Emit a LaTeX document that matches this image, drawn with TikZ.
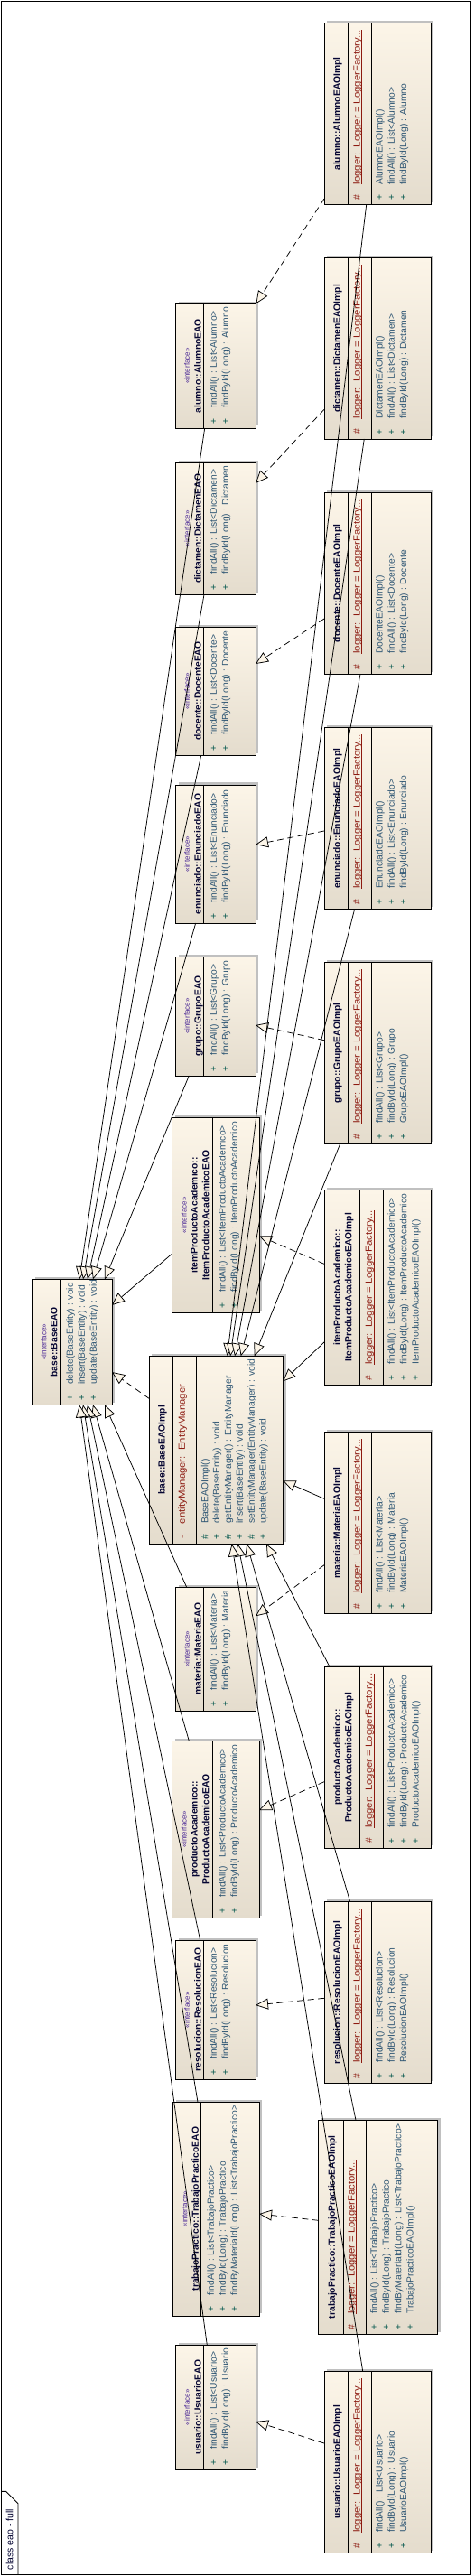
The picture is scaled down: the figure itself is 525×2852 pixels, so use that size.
\documentclass[tikz,border=0pt]{standalone}
\usepackage{fontspec}
\setmainfont{Liberation Sans}
\usetikzlibrary{arrows.meta,shadows}
\definecolor{boxtop}{RGB}{252,245,232}
\definecolor{boxbot}{RGB}{228,220,205}
\definecolor{opc}{RGB}{45,85,115}
\definecolor{attrc}{RGB}{140,25,15}
\definecolor{stc}{RGB}{75,40,150}
\definecolor{plusc}{RGB}{0,85,75}
\definecolor{namec}{RGB}{5,5,50}
\definecolor{shadowc}{RGB}{192,192,192}
\newcounter{tn}
% box: id L T R B
\newcommand\bx[5]{\node[clsbox, anchor=north west, minimum width={#4-#2}, minimum height={#5-#3}] (#1) at (#2,#3) {};}
% separator: x T B
\newcommand\sepl[3]{\draw[sepline] (#1,#2) -- (#1,#3);}
% label: style x y text
\newcommand\lbl[4]{\stepcounter{tn}\node[#1] (l\arabic{tn}) at (#2,#3) {#4};}
% operation: x B symbol text
\newcommand\oper[4]{\stepcounter{tn}\node[vistxt] (v\arabic{tn}) at (#1,{#2-8}) {#3};\node[optxt] (o\arabic{tn}) at (#1,{#2-22.5}) {#4};}
% static attribute: x B text
\newcommand\sattr[3]{\stepcounter{tn}\node[vistxt,text=attrc] (av\arabic{tn}) at (#1,{#2-8}) {\#};\node[attrtxt] (a\arabic{tn}) at (#1,{#2-22.5}) {#3};\draw[attrc,line width=0.6pt] (a\arabic{tn}.south west) -- (a\arabic{tn}.south east);}
% connector: style start end
\newcommand\conn[3]{\stepcounter{tn}\coordinate (cs\arabic{tn}) at (#2);\coordinate (ce\arabic{tn}) at (#3);\draw[#1] (cs\arabic{tn}) -- (ce\arabic{tn});}
% standard interface: id T B name op1 op2
\newcommand\stdiface[6]{%
 \bx{#1}{194.7}{#2}{283}{#3}
 \sepl{225.7}{#2}{#3}
 \lbl{sttxt}{207.3}{{(#2+#3)/2}}{«interface»}
 \lbl{nametxt}{220}{{(#2+#3)/2}}{#4}
 \oper{237.3}{#3}{+}{#5}
 \oper{250.6}{#3}{+}{#6}}
% standard implementation: id T B name op1 op2 op3
\newcommand\stdimpl[7]{%
 \bx{#1}{359}{#2}{477}{#3}
 \sepl{385.7}{#2}{#3}
 \sepl{411.3}{#2}{#3}
 \lbl{nametxt}{374}{{(#2+#3)/2}}{#4}
 \sattr{396}{#3}{logger:\ \ Logger = LoggerFactory...}
 \oper{421}{#3}{+}{#5}
 \oper{434.3}{#3}{+}{#6}
 \oper{447.6}{#3}{+}{#7}}
\begin{document}
\begin{tikzpicture}[x=1pt,y=-1pt,
  clsbox/.style={draw=black,line width=0.9pt,top color=boxtop,bottom color=boxbot,inner sep=0pt,outer sep=0pt,drop shadow={shadow xshift=3.3pt,shadow yshift=2.7pt,fill=shadowc,opacity=1}},
  sepline/.style={draw=black,line width=0.9pt},
  txt/.style={rotate=90,inner sep=0pt,outer sep=0pt},
  nametxt/.style={txt,anchor=mid,text=namec,font=\fontsize{10.3}{12}\selectfont\bfseries},
  sttxt/.style={txt,anchor=mid,text=stc,font=\fontsize{8}{10}\selectfont},
  optxt/.style={txt,anchor=mid west,text=opc,font=\fontsize{10.3}{12}\selectfont},
  attrtxt/.style={txt,xscale=1.1,anchor=mid west,text=attrc,font=\fontsize{10.3}{12}\selectfont},
  vistxt/.style={txt,anchor=mid,text=plusc,font=\fontsize{10.3}{12}\selectfont},
  frametxt/.style={txt,anchor=mid west,text=namec,font=\fontsize{10.5}{12}\selectfont},
  genarrow/.style={draw=black,line width=0.75pt,-{Triangle[length=14pt,width=12pt,fill=boxtop]}},
  realarrow/.style={genarrow,dash pattern=on 7pt off 4.5pt}]
\useasboundingbox (0,0) rectangle (525,2852);
\fill[white] (0,0) rectangle (525,2852);
% frame
\draw[line width=0.9pt] (1.5,1) rectangle (521.5,2850);
\draw[line width=0.9pt] (1.5,2758.3) -- (6.7,2758.3) -- (20,2771.7) -- (20,2850);
\node[frametxt] (framelabel) at (11.7,2845) {class eao - full};

% ---------- base ----------
\bx{baseEAO}{35.3}{1416.3}{124}{1555.3}
\sepl{66.3}{1416.3}{1555.3}
\lbl{sttxt}{48.7}{1485.8}{«interface»}
\lbl{nametxt}{60.7}{1485.8}{base::BaseEAO}
\oper{78.3}{1555.3}{+}{delete(BaseEntity) : void}
\oper{91.3}{1555.3}{+}{insert(BaseEntity) : void}
\oper{104.3}{1555.3}{+}{update(BaseEntity) : void}

\bx{baseImpl}{165}{1501.3}{313.3}{1709.3}
\sepl{191.7}{1501.3}{1709.3}
\sepl{217.7}{1501.3}{1709.3}
\lbl{nametxt}{180}{1605.3}{base::BaseEAOImpl}
\lbl{vistxt,text=attrc}{202.3}{1701.3}{-}
\lbl{attrtxt}{202.3}{1687}{entityManager:\ \ EntityManager}
\oper{227.7}{1709.3}{\#}{BaseEAOImpl()}
\oper{240.6}{1709.3}{+}{delete(BaseEntity) : void}
\oper{253.4}{1709.3}{\#}{getEntityManager() : EntityManager}
\oper{266.3}{1709.3}{+}{insert(BaseEntity) : void}
\oper{279.2}{1709.3}{\#}{setEntityManager(EntityManager) : void}
\oper{292.1}{1709.3}{+}{update(BaseEntity) : void}

% ---------- interfaces ----------
\stdiface{alumnoEAO}{336.3}{474}{alumno::AlumnoEAO}{findAll() : List<Alumno>}{findById(Long) : Alumno}
\stdiface{dictamenEAO}{512.3}{658.3}{dictamen::DictamenEAO}{findAll() : List<Dictamen>}{findById(Long) : Dictamen}
\stdiface{docenteEAO}{694.3}{836.3}{docente::DocenteEAO}{findAll() : List<Docente>}{findById(Long) : Docente}
\stdiface{enunciadoEAO}{869}{1022}{enunciado::EnunciadoEAO}{findAll() : List<Enunciado>}{findById(Long) : Enunciado}
\stdiface{grupoEAO}{1059.3}{1191}{grupo::GrupoEAO}{findAll() : List<Grupo>}{findById(Long) : Grupo}
\stdiface{materiaEAO}{1757.3}{1894}{materia::MateriaEAO}{findAll() : List<Materia>}{findById(Long) : Materia}
\stdiface{resolucionEAO}{2148.3}{2302.3}{resolucion::ResolucionEAO}{findAll() : List<Resolucion>}{findById(Long) : Resolucion}
\stdiface{usuarioEAO}{2596.3}{2734.3}{usuario::UsuarioEAO}{findAll() : List<Usuario>}{findById(Long) : Usuario}

\bx{itemEAO}{190.3}{1237.3}{287}{1453.3}
\sepl{235.7}{1237.3}{1453.3}
\lbl{sttxt}{204}{1345.3}{«interface»}
\lbl{nametxt}{216}{1345.3}{itemProductoAcademico::}
\lbl{nametxt}{228.7}{1345.3}{ItemProductoAcademicoEAO}
\oper{247}{1453.3}{+}{findAll() : List<ItemProductoAcademico>}
\oper{260.3}{1453.3}{+}{findById(Long) : ItemProductoAcademico}

\bx{productoEAO}{190.3}{1927.3}{287}{2123.3}
\sepl{235.7}{1927.3}{2123.3}
\lbl{sttxt}{204}{2025.3}{«interface»}
\lbl{nametxt}{216}{2025.3}{productoAcademico::}
\lbl{nametxt}{228.7}{2025.3}{ProductoAcademicoEAO}
\oper{247}{2123.3}{+}{findAll() : List<ProductoAcademico>}
\oper{260.3}{2123.3}{+}{findById(Long) : ProductoAcademico}

\bx{trabajoEAO}{191.3}{2327.3}{287}{2564}
\sepl{222.7}{2327.3}{2564}
\lbl{sttxt}{204.7}{2445.6}{«interface»}
\lbl{nametxt}{217.3}{2445.6}{trabajoPractico::TrabajoPracticoEAO}
\oper{234.3}{2564}{+}{findAll() : List<TrabajoPractico>}
\oper{247.3}{2564}{+}{findById(Long) : TrabajoPractico}
\oper{260.3}{2564}{+}{findByMateriaId(Long) : List<TrabajoPractico>}

% ---------- implementations ----------
\stdimpl{alumnoImpl}{25.3}{226.7}{alumno::AlumnoEAOImpl}{AlumnoEAOImpl()}{findAll() : List<Alumno>}{findById(Long) : Alumno}
\stdimpl{dictamenImpl}{285.7}{486}{dictamen::DictamenEAOImpl}{DictamenEAOImpl()}{findAll() : List<Dictamen>}{findById(Long) : Dictamen}
\stdimpl{docenteImpl}{545.7}{746.3}{docente::DocenteEAOImpl}{DocenteEAOImpl()}{findAll() : List<Docente>}{findById(Long) : Docente}
\stdimpl{enunciadoImpl}{805.7}{1006.3}{enunciado::EnunciadoEAOImpl}{EnunciadoEAOImpl()}{findAll() : List<Enunciado>}{findById(Long) : Enunciado}
\stdimpl{grupoImpl}{1065.3}{1266.3}{grupo::GrupoEAOImpl}{findAll() : List<Grupo>}{findById(Long) : Grupo}{GrupoEAOImpl()}
\stdimpl{materiaImpl}{1585.7}{1786.3}{materia::MateriaEAOImpl}{findAll() : List<Materia>}{findById(Long) : Materia}{MateriaEAOImpl()}
\stdimpl{resolucionImpl}{2105.7}{2306.3}{resolucion::ResolucionEAOImpl}{findAll() : List<Resolucion>}{findById(Long) : Resolucion}{ResolucionEAOImpl()}
\stdimpl{usuarioImpl}{2625.3}{2826.3}{usuario::UsuarioEAOImpl}{findAll() : List<Usuario>}{findById(Long) : Usuario}{UsuarioEAOImpl()}

\bx{itemImpl}{359}{1317.3}{477}{1533.3}
\sepl{398.7}{1317.3}{1533.3}
\sepl{424.7}{1317.3}{1533.3}
\lbl{nametxt}{374.3}{1425.3}{itemProductoAcademico::}
\lbl{nametxt}{386.7}{1425.3}{ItemProductoAcademicoEAOImpl}
\sattr{409.3}{1533.3}{logger:\ \ Logger = LoggerFactory...}
\oper{434.3}{1533.3}{+}{findAll() : List<ItemProductoAcademico>}
\oper{447.7}{1533.3}{+}{findById(Long) : ItemProductoAcademico}
\oper{461}{1533.3}{+}{ItemProductoAcademicoEAOImpl()}

\bx{productoImpl}{359}{1845.3}{477}{2046}
\sepl{398.7}{1845.3}{2046}
\sepl{424.7}{1845.3}{2046}
\lbl{nametxt}{374.3}{1945.7}{productoAcademico::}
\lbl{nametxt}{386.7}{1945.7}{ProductoAcademicoEAOImpl}
\sattr{409.3}{2046}{logger:\ \ Logger = LoggerFactory...}
\oper{434.3}{2046}{+}{findAll() : List<ProductoAcademico>}
\oper{447.7}{2046}{+}{findById(Long) : ProductoAcademico}
\oper{461}{2046}{+}{ProductoAcademicoEAOImpl()}

\bx{trabajoImpl}{352.7}{2347.3}{484.3}{2584.3}
\sepl{380}{2347.3}{2584.3}
\sepl{405.7}{2347.3}{2584.3}
\lbl{nametxt}{368.3}{2465.8}{trabajoPractico::TrabajoPracticoEAOImpl}
\sattr{390}{2584.3}{logger:\ \ Logger = LoggerFactory...}
\oper{415}{2584.3}{+}{findAll() : List<TrabajoPractico>}
\oper{428.3}{2584.3}{+}{findById(Long) : TrabajoPractico}
\oper{441.7}{2584.3}{+}{findByMateriaId(Long) : List<TrabajoPractico>}
\oper{455}{2584.3}{+}{TrabajoPracticoEAOImpl()}

% ---------- realizations ----------
\conn{realarrow}{359,220}{283.5,336.3}
\conn{realarrow}{359,453.3}{283,535}
\conn{realarrow}{359,685}{283,735}
\conn{realarrow}{359,920}{283,935}
\conn{realarrow}{359,1151.7}{283,1135}
\conn{realarrow}{359,1399.3}{287,1368.3}
\conn{realarrow}{359,1732.7}{283,1789.3}
\conn{realarrow}{359,1972.7}{287,2004}
\conn{realarrow}{359,2212.3}{283,2220}
\conn{realarrow}{352.7,2458.3}{287,2451}
\conn{realarrow}{359,2705}{283,2681}
\conn{realarrow}{165,1548.3}{124,1519}

% ---------- generalizations to BaseEAO ----------
\conn{genarrow}{226.7,474}{88,1416.3}
\conn{genarrow}{226,658.3}{92,1416.3}
\conn{genarrow}{222.7,836.3}{97,1416.3}
\conn{genarrow}{216.7,1022}{103,1416.3}
\conn{genarrow}{209.3,1191}{116,1416.3}
\conn{genarrow}{190.3,1388.3}{124,1445}
\conn{genarrow}{206.7,1757.3}{116,1555.3}
\conn{genarrow}{209.3,1927.3}{103,1555.3}
\conn{genarrow}{221.7,2148.3}{97,1555.3}
\conn{genarrow}{219,2327.3}{92,1555.3}
\conn{genarrow}{229.3,2596.3}{88,1555.3}

% ---------- generalizations to BaseEAOImpl ----------
\conn{genarrow}{405.7,226.7}{251.7,1501.3}
\conn{genarrow}{403.3,486}{255,1501.3}
\conn{genarrow}{399,746.3}{260,1501.3}
\conn{genarrow}{392.7,1006.3}{266.7,1501.3}
\conn{genarrow}{376.7,1266.3}{281.7,1501.3}
\conn{genarrow}{359,1486}{313.3,1529.3}
\conn{genarrow}{359,1659.3}{313.3,1639.3}
\conn{genarrow}{365,1845.3}{295,1709.3}
\conn{genarrow}{387.7,2105.7}{273.3,1709.3}
\conn{genarrow}{394,2347.3}{263.3,1709.3}
\conn{genarrow}{401.7,2625.3}{256.7,1709.3}
\end{tikzpicture}
\end{document}
